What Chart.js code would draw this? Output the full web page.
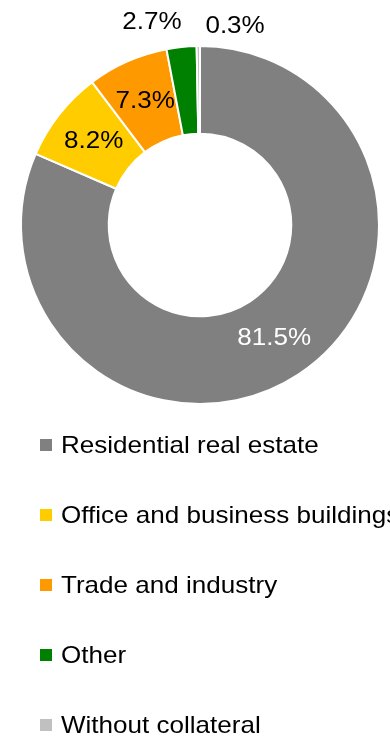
<!DOCTYPE html>
<html>
<head>
<meta charset="utf-8">
<script src="https://cdn.jsdelivr.net/npm/chart.js@4/dist/chart.umd.min.js"></script>
<style>
  html, body { margin: 0; padding: 0; background: #fff; overflow: hidden; }
  #wrap { position: relative; width: 390px; height: 736px; overflow: hidden; }
  #chart { position: absolute; left: 0; top: 0; }
  #legend { position: absolute; left: 40px; top: 410px; margin: 0; padding: 0; list-style: none;
            font-family: "Liberation Sans", Arial, sans-serif; font-size: 24px; color: #000; }
  #legend li { height: 70px; display: flex; align-items: center; white-space: nowrap; }
  #legend .box { width: 12px; height: 12px; margin-right: 9px; flex: none; }
  #legend .name { display: inline-block; transform: scaleX(1.085); transform-origin: left center; }
</style>
</head>
<body>
<div id="wrap">
  <canvas id="chart" width="390" height="736"></canvas>
  <ul id="legend"></ul>
</div>
<script>
// Collateral breakdown (share of portfolio, %)
const categories = [
  "Residential real estate",
  "Office and business buildings",
  "Trade and industry",
  "Other",
  "Without collateral"
];
const shares = [81.5, 8.2, 7.3, 2.7, 0.3];
const sliceColors = ["#808080", "#FFCC00", "#FF9900", "#008000", "#C0C0C0"];

// Where each value label goes: inside the ring or just outside it (with a nudge)
const labelPlacement = [
  { where: "ring", color: "#FFFFFF" },
  { where: "ring", color: "#000000" },
  { where: "ring", color: "#000000" },
  { where: "outside", color: "#000000", dx: -27, dy: 0 },
  { where: "outside", color: "#000000", dx: 37, dy: 5 }
];

const TEXT_STRETCH = 1.085;

const valueLabels = {
  id: "valueLabels",
  afterDatasetsDraw(chart) {
    const ctx = chart.ctx;
    const meta = chart.getDatasetMeta(0);
    meta.data.forEach((arc, i) => {
      const p = arc.getProps(["x", "y", "startAngle", "endAngle", "innerRadius", "outerRadius"], true);
      const mid = (p.startAngle + p.endAngle) / 2;
      const place = labelPlacement[i];
      let r, dx = 0, dy = 0;
      if (place.where === "ring") {
        r = (p.innerRadius + p.outerRadius) / 2;
      } else {
        r = p.outerRadius + 25;
        dx = place.dx; dy = place.dy;
      }
      const x = p.x + Math.cos(mid) * r + dx;
      const y = p.y + Math.sin(mid) * r + dy;
      ctx.save();
      ctx.font = '24px "Liberation Sans", Arial, sans-serif';
      ctx.textAlign = "center";
      ctx.textBaseline = "middle";
      ctx.fillStyle = place.color;
      ctx.translate(x, y);
      ctx.scale(TEXT_STRETCH, 1);
      ctx.fillText(shares[i].toFixed(1) + "%", 0, 0);
      ctx.restore();
    });
  }
};

const chart = new Chart(document.getElementById("chart"), {
  type: "doughnut",
  data: {
    labels: categories,
    datasets: [{
      data: shares,
      backgroundColor: sliceColors,
      borderColor: "#FFFFFF",
      borderWidth: 2
    }]
  },
  options: {
    responsive: false,
    animation: false,
    cutout: "51%",
    layout: { padding: { left: 20, right: 10, top: 45, bottom: 331 } },
    plugins: {
      legend: { display: false },
      tooltip: { enabled: false }
    }
  },
  plugins: [valueLabels]
});

// Legend as a vertical list built from the chart's own labels
const legendEl = document.getElementById("legend");
chart.data.labels.forEach((name, i) => {
  const li = document.createElement("li");
  const box = document.createElement("span");
  box.className = "box";
  box.style.background = sliceColors[i];
  const text = document.createElement("span");
  text.className = "name";
  text.textContent = name;
  li.appendChild(box);
  li.appendChild(text);
  legendEl.appendChild(li);
});
</script>
</body>
</html>
